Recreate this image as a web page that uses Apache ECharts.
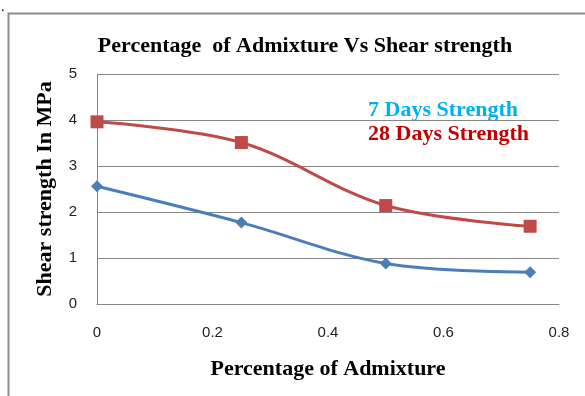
<!DOCTYPE html>
<html><head><meta charset="utf-8">
<script src="https://cdn.jsdelivr.net/npm/echarts@6/dist/echarts.min.js"></script>
<style>html,body{margin:0;padding:0;background:#fff}#c{width:585px;height:396px}</style>
</head><body><div id="c"></div>
<script>
const xValues = [0, 0.25, 0.5, 0.75];
const days7 = [2.56, 1.77, 0.88, 0.69];
const days28 = [3.96, 3.51, 2.14, 1.69];
const xTicks = [0, 0.2, 0.4, 0.6, 0.8];
const yTicks = [0, 1, 2, 3, 4, 5];
const titleText = 'Percentage  of Admixture Vs Shear strength';
const xName = 'Percentage of Admixture';
const yName = 'Shear strength In MPa';
const label7 = '7 Days Strength';
const label28 = '28 Days Strength';

const serif = '"Liberation Serif","Times New Roman",serif';
const sans = '"Liberation Sans",Arial,sans-serif';
const chart = echarts.init(document.getElementById('c'));
chart.setOption({
  animation: false,
  title: {text: titleText, left: 300, top: 30, textAlign: 'center',
    textStyle: {fontFamily: serif, fontWeight: 'bold', fontSize: 22, color: '#000'}},
  grid: {left: 97, right: 26, top: 74, bottom: 92},
  xAxis: {type: 'value', min: xTicks[0], max: xTicks[xTicks.length-1], interval: 0.2,
    name: xName, nameLocation: 'middle', nameGap: 54,
    nameTextStyle: {fontFamily: serif, fontWeight: 'bold', fontSize: 22, color: '#000'},
    axisLine: {show: true, lineStyle: {color: '#868686', width: 1}},
    axisTick: {show: false}, splitLine: {show: false},
    axisLabel: {margin: 21, fontSize: 15, color: '#222', fontFamily: sans}},
  yAxis: {type: 'value', min: yTicks[0], max: yTicks[yTicks.length-1], interval: 1,
    name: yName, nameLocation: 'middle', nameGap: 41,
    nameTextStyle: {fontFamily: serif, fontWeight: 'bold', fontSize: 22, color: '#000'},
    axisLine: {show: true, lineStyle: {color: '#868686', width: 1}},
    axisTick: {show: false},
    splitLine: {show: true, lineStyle: {color: '#868686', width: 1}},
    axisLabel: {margin: 20, fontSize: 15, color: '#222', fontFamily: sans}},
  series: [
    {type: 'line', name: label7, data: xValues.map((x,i)=>[x, days7[i]]), smooth: 0.35,
     symbol: 'diamond', symbolSize: 12, lineStyle: {color: '#4a7ebb', width: 3},
     itemStyle: {color: '#4a7ebb'}},
    {type: 'line', name: label28, data: xValues.map((x,i)=>[x, days28[i]]), smooth: 0.35,
     symbol: 'rect', symbolSize: 13, lineStyle: {color: '#be4b48', width: 3},
     itemStyle: {color: '#be4b48'}}
  ],
  graphic: [
    {type: 'rect', shape: {x: 8.5, y: 13.5, width: 600, height: 400}, silent: true,
     style: {fill: 'none', stroke: '#8c8c8c', lineWidth: 2}, z: -1},
    {type: 'text', left: 1, top: 0, style: {text: '.', fontSize: 14, fill: '#000', fontFamily: serif}},
    {type: 'text', left: 368, top: 99, style: {text: label7, fontFamily: serif, fontWeight: 'bold', fontSize: 22, fill: '#00b0f0'}},
    {type: 'text', left: 368, top: 123, style: {text: label28, fontFamily: serif, fontWeight: 'bold', fontSize: 22, fill: '#c00000'}}
  ]
});
</script></body></html>
